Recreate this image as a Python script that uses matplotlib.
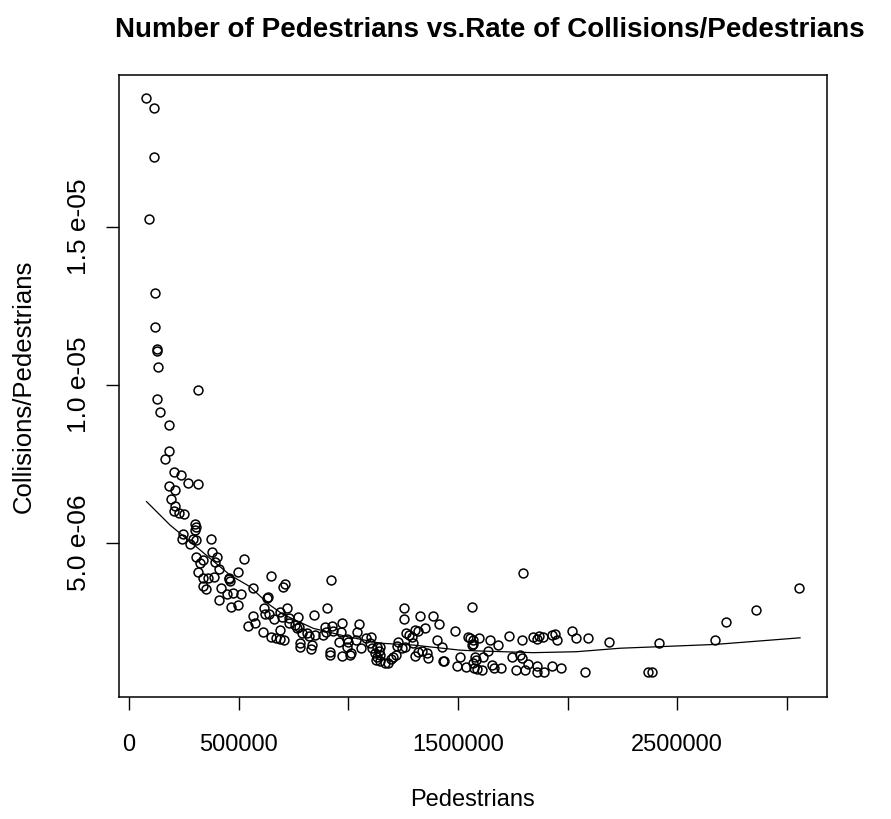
import numpy as np
import matplotlib
matplotlib.use('Agg')
import matplotlib.pyplot as plt

plt.rcParams['font.family'] = ['Liberation Sans', 'DejaVu Sans']

# Pedestrians (thousands) and collisions per pedestrian (x 1e-6)
peds_k = [76, 113, 113, 90, 120, 120, 126, 127, 132, 313, 126, 141, 184, 184, 163, 207, 236,
          270, 313, 184, 208, 192, 208, 204, 227, 251, 301, 304, 302, 245, 242, 290, 304, 372,
          280, 378, 307, 403, 337, 324, 392, 524, 409, 496, 315, 339, 362, 389, 456, 458, 460,
          336, 351, 418, 446, 473, 511, 567, 410, 465, 496, 648, 712, 704, 632, 628, 617, 719,
          622, 640, 567, 660, 689, 699, 728, 730, 771, 774, 756, 544, 576, 690, 610, 649, 670,
          689, 707, 780, 780,
          921, 901, 842, 767, 787, 810, 822, 848, 833, 829, 886, 898, 894, 924, 932, 917, 917,
          970, 967, 959, 973, 993, 1000, 993, 1008, 1012, 1038, 1050, 1035, 1059, 1081, 1104,
          1099, 1107, 1129, 1144, 1141, 1122, 1129, 1144, 1126, 1144, 1167, 1183, 1195, 1206,
          1218, 1228, 1224, 1243, 1258, 1254, 1254, 1263, 1278, 1289, 1304, 1319, 1350, 1327,
          1297, 1304, 1319, 1334, 1357, 1365, 1385, 1415, 1406, 1429, 1434, 1438, 1487, 1509,
          1497,
          1566, 1798, 1547, 1555, 1567, 1570, 1563, 1596, 1537, 1578, 1582, 1570, 1575, 1586,
          1608, 1612, 1638, 1646, 1683, 1654, 1666, 1695, 1733, 1748, 1783, 1791, 1763, 1806,
          1791, 1818, 1841, 1859, 1871, 1886, 1859, 1862, 1892, 1927, 1943, 1953, 1927, 1969,
          2021, 2037, 2095, 2189, 2079,
          2418, 2368, 2383, 2672, 2722, 2859, 3055]
rate_e6 = [19.08, 18.78, 17.22, 15.26, 12.90, 11.84, 11.13, 11.08, 10.58, 9.83, 9.57, 9.13, 8.73,
           7.91, 7.66, 7.26, 7.15,
           6.91, 6.86, 6.81, 6.69, 6.39, 6.17, 6.01, 5.96, 5.91, 5.60, 5.52, 5.41, 5.29, 5.14,
           5.12, 5.10, 5.14, 4.96, 4.71, 4.55, 4.55, 4.46, 4.37, 4.40, 4.49, 4.19, 4.09, 4.09,
           3.88, 3.88, 3.91, 3.89, 3.86, 3.81, 3.64, 3.53, 3.59, 3.39, 3.43, 3.39, 3.59, 3.20,
           2.99, 3.03, 3.95, 3.70, 3.62, 3.30, 3.25, 2.95, 2.95, 2.75, 2.75, 2.69, 2.59, 2.83,
           2.67, 2.62, 2.46, 2.67, 2.35, 2.41, 2.38, 2.48, 2.25, 2.17, 2.04, 2.00, 1.96, 1.93,
           1.83, 1.72,
           3.84, 2.93, 2.73, 2.30, 2.16, 2.14, 2.06, 2.09, 1.77, 1.64, 2.09, 2.19, 2.35, 2.37,
           2.22, 1.56, 1.47, 2.48, 2.19, 1.88, 1.42, 1.95, 1.88, 1.72, 1.46, 1.51, 2.19, 2.44,
           1.93, 1.67, 1.98, 2.04, 1.83, 1.67, 1.72, 1.72, 1.59, 1.53, 1.40, 1.46, 1.30, 1.28,
           1.21, 1.19, 1.32, 1.38, 1.46, 1.88, 1.74, 1.67, 1.72, 2.93, 2.59, 2.14, 2.09, 2.04,
           2.25, 2.22, 2.30, 2.68, 1.83, 1.42, 1.56, 1.59, 1.53, 1.35, 2.68, 2.43, 1.93, 1.72,
           1.27, 1.27, 2.22, 1.40, 1.12,
           2.99, 4.04, 2.04, 1.98, 1.93, 1.80, 1.77, 2.00, 1.09, 1.38, 1.30, 1.19, 1.03, 1.00,
           0.98, 1.38, 1.58, 1.93, 1.77, 1.14, 1.03, 1.03, 2.07, 1.38, 1.46, 1.35, 0.98, 0.98,
           1.93, 1.17, 2.01, 1.97, 2.06, 2.04, 1.11, 0.93, 0.93, 2.08, 2.13, 1.93, 1.12, 1.03,
           2.22, 1.98, 1.98, 1.88, 0.93,
           1.83, 0.92, 0.92, 1.93, 2.49, 2.88, 3.59]

# smoothed trend line (lowess)
trend_x_k = [80, 187, 324, 460, 551, 640, 700, 840, 993, 1144, 1297, 1509, 1570, 1843, 2041,
             2239, 2672, 3060]
trend_e6 = [6.31, 5.57, 4.78, 3.99, 3.62, 3.05, 2.75, 2.30, 2.04, 1.83, 1.77, 1.61, 1.59, 1.53,
            1.56, 1.67, 1.79, 2.00]

x_ticks = [0, 500000, 1000000, 1500000, 2000000, 2500000, 3000000]
x_labels = ['0', '500000', '', '1500000', '', '2500000', '']
y_ticks = [5e-6, 1e-5, 1.5e-5]
y_labels = ['5.0 e-06', '1.0 e-05', '1.5 e-05']

x = np.array(peds_k) * 1000
y = np.array(rate_e6) * 1e-6
tx = np.array(trend_x_k) * 1000
ty = np.array(trend_e6) * 1e-6

fig = plt.figure(figsize=(8.91, 8.19), dpi=100)
ax = fig.add_axes([119 / 891, 1 - 697 / 819, 708 / 891, 622 / 819])

ax.plot(x, y, 'o', mfc='none', mec='black', ms=6.4, mew=1.1)
ax.plot(tx, ty, color='black', lw=0.9)

ax.set_xlim(-45600, 3182900)
ax.set_ylim(1.27e-7, 1.981e-5)

ax.set_xticks(x_ticks)
ax.set_xticklabels(x_labels, fontsize=17)
ax.set_yticks(y_ticks)
ax.set_yticklabels(y_labels, rotation=90, va='center', fontsize=19)
ax.tick_params(direction='out', length=9.5, width=1.0)
ax.tick_params(axis='x', pad=17)
ax.tick_params(axis='y', pad=11)
for s in ax.spines.values():
    s.set_linewidth(1.1)

fig.text(490 / 891, 1 - 30 / 819, 'Number of Pedestrians vs.Rate of Collisions/Pedestrians',
         ha='center', va='center', fontsize=20, fontweight='bold')
fig.text(473 / 891, 1 - 800 / 819, 'Pedestrians', ha='center', va='center', fontsize=17)
fig.text(24 / 891, 1 - 386 / 819, 'Collisions/Pedestrians', ha='center', va='center',
         fontsize=18.5, rotation=90)

fig.savefig('out.png', dpi=100)
